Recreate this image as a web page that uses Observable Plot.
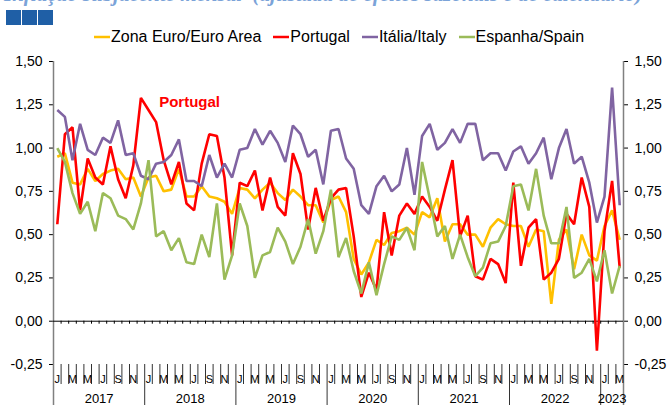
<!DOCTYPE html>
<html><head><meta charset="utf-8">
<script src="https://cdn.jsdelivr.net/npm/d3@7"></script>
<script src="https://cdn.jsdelivr.net/npm/@observablehq/plot@0.6"></script>
<style>
html,body{margin:0;padding:0;background:#fff;}
body{width:668px;height:405px;overflow:hidden;position:relative;font-family:"Liberation Sans",Arial,sans-serif;}
#title{position:absolute;left:4px;top:-18px;font:italic bold 21px "Liberation Serif",serif;color:#7ba3d8;white-space:nowrap;}
#squares{position:absolute;left:6px;top:10px;display:flex;gap:1px;}
#squares span{display:block;width:15px;height:15px;background:#1f5fa6;}
#legend{position:absolute;top:28px;left:94px;display:flex;align-items:center;font-size:16px;color:#000;white-space:nowrap;z-index:2;}
#legend .item{display:flex;align-items:center;margin-right:12px;}
#legend svg{margin-right:1px;}
#chart{position:absolute;left:0;top:0;}
</style>
</head><body>
<div id="title">Inflação subjacente mensal &nbsp;(ajustada de efeitos sazonais e de calendário)</div>
<div id="squares"><span></span><span></span><span></span></div>
<div id="legend"></div>
<div id="chart"></div>
<script>
// ---- data (monthly, Jan 2017 – Mar 2023) ----
const yearLabels = ["2017","2018","2019","2020","2021","2022","2023"];
const monthInitials = ["J","F","M","A","M","J","J","A","S","O","N","D"];
const yTicks = [-0.25, 0, 0.25, 0.5, 0.75, 1.0, 1.25, 1.5];
const seriesNames = ["Zona Euro/Euro Area", "Portugal", "Itália/Italy", "Espanha/Spain"];
const seriesColors = ["#FFC000", "#FF0000", "#8064A2", "#9BBB59"];

const zonaEuro = [0.95,0.97,0.80,0.79,0.88,0.81,0.85,0.87,0.88,0.82,0.83,0.72,
  0.83,0.84,0.75,0.76,0.88,0.72,0.72,0.78,0.72,0.71,0.69,0.62,
  0.77,0.76,0.71,0.76,0.80,0.74,0.70,0.76,0.72,0.67,0.67,0.57,
  0.70,0.72,0.63,0.36,0.27,0.34,0.47,0.44,0.51,0.52,0.54,0.50,
  0.63,0.60,0.71,0.46,0.56,0.56,0.50,0.50,0.43,0.54,0.59,0.56,
  0.55,0.55,0.43,0.53,0.52,0.10,0.47,0.53,0.30,0.50,0.38,0.35,
  0.55,0.64,0.47];
const portugal = [0.56,1.08,1.12,0.64,0.94,0.83,0.79,1.01,0.82,0.71,0.90,1.29,
  1.22,1.15,0.93,0.79,0.92,0.68,0.64,0.91,1.08,1.07,0.83,0.38,
  0.80,0.78,0.87,0.64,0.83,0.66,0.61,0.97,0.85,0.53,0.77,0.58,
  0.71,0.76,0.77,0.49,0.14,0.28,0.18,0.63,0.38,0.61,0.68,0.62,
  0.72,0.66,0.58,0.76,0.93,0.49,0.61,0.26,0.24,0.36,0.33,0.22,
  0.80,0.32,0.54,0.59,0.24,0.28,0.36,0.62,0.56,0.83,0.66,-0.17,
  0.52,0.81,0.31];
const italia = [1.22,1.18,0.93,1.14,0.99,0.96,1.06,1.03,1.16,0.96,0.97,0.84,
  0.82,0.91,0.92,0.96,1.05,0.81,0.81,0.78,0.96,0.83,0.91,0.83,
  0.99,1.00,1.11,1.02,1.10,1.03,0.92,1.13,1.08,0.95,0.99,0.79,
  1.10,1.11,0.94,0.88,0.67,0.62,0.78,0.84,0.75,0.79,1.00,0.73,
  1.07,1.14,0.99,1.03,1.11,1.03,1.14,1.14,0.93,0.97,0.97,0.87,
  0.98,1.01,0.91,0.97,1.06,0.82,1.00,1.11,0.91,0.95,0.80,0.57,
  0.72,1.35,0.67];
const espanha = [1.00,0.92,0.74,0.62,0.69,0.52,0.74,0.71,0.61,0.59,0.53,0.68,
  0.93,0.49,0.52,0.41,0.48,0.34,0.33,0.50,0.37,0.68,0.24,0.38,
  0.68,0.55,0.25,0.38,0.40,0.54,0.46,0.33,0.43,0.59,0.39,0.52,
  0.76,0.37,0.48,0.29,0.16,0.34,0.15,0.33,0.49,0.47,0.54,0.41,
  0.92,0.71,0.49,0.55,0.36,0.50,0.37,0.26,0.31,0.45,0.46,0.55,
  0.78,0.79,0.64,0.88,0.61,0.45,0.45,0.66,0.25,0.28,0.36,0.23,
  0.41,0.16,0.32];
const annotation = {text: "Portugal", month: 13.9, value: 1.265};

// ---- derived tables ----
const series = [zonaEuro, portugal, italia, espanha];
const n = portugal.length;
const monthIdx = d3.range(n);
const labelIdx = monthIdx.filter(i => i % 2 === 0);
const inner = d3.range(1, n);
const yearBounds = yearLabels.map((y, k) => k * 12).slice(1);
const yearCenters = yearLabels.map((y, k) => ({year: y, c: (k * 12 + Math.min(n, k * 12 + 12)) / 2}));
const fmt = d => d.toFixed(2).replace(".", ",").replace("-0,00", "0,00");

// legend
const lg = document.getElementById("legend");
seriesNames.forEach((name, k) => {
  const it = document.createElement("div");
  it.className = "item";
  it.innerHTML = `<svg width="16" height="10"><line x1="0" y1="5" x2="16" y2="5" stroke="${seriesColors[k]}" stroke-width="2.5"/></svg><span>${name}</span>`;
  lg.appendChild(it);
});

const chart = Plot.plot({
  width: 668, height: 405,
  marginLeft: 53, marginRight: 45, marginTop: 61, marginBottom: 41,
  style: {fontFamily: "Liberation Sans, Arial, sans-serif", fontSize: "14px", color: "#000", background: "transparent", overflow: "visible"},
  x: {domain: [0, n], axis: null},
  y: {domain: [-0.25, 1.5], axis: "both", ticks: yTicks, tickFormat: fmt, tickSize: 4, tickPadding: 7, label: null},
  marks: [
    Plot.ruleX([0, n], {y1: 1.5, y2: -0.25, insetBottom: -41, stroke: "#808080", strokeWidth: 1.5}),
    Plot.ruleY([0], {stroke: "#000", strokeWidth: 1}),
    Plot.ruleX(inner, {y1: 0, y2: 0, insetBottom: -3, stroke: "#000", strokeWidth: 1}),
    Plot.ruleX(inner.filter(b => b % 12 !== 0), {y1: -0.25, y2: -0.25, insetBottom: -20, stroke: "#333", strokeWidth: 1}),
    Plot.ruleX(yearBounds, {y1: -0.25, y2: -0.25, insetBottom: -41, stroke: "#333", strokeWidth: 1}),
    ...series.map((s, k) => Plot.line(s, {x: (d, i) => i + 0.5, y: d => d, stroke: seriesColors[k], strokeWidth: 2.6, strokeLinejoin: "miter", strokeLinecap: "butt"})),
    Plot.text(labelIdx, {x: i => i + 0.5, y: () => -0.25, dy: 15, text: i => monthInitials[i % 12], fontSize: 11}),
    Plot.text(yearCenters, {x: "c", y: () => -0.25, dy: 34, text: "year", fontSize: 13}),
    Plot.text([annotation], {x: "month", y: "value", text: "text", textAnchor: "start", fill: "#FF0000", fontWeight: "bold", fontSize: 15})
  ]
});
document.getElementById("chart").appendChild(chart);
</script>
</body></html>
